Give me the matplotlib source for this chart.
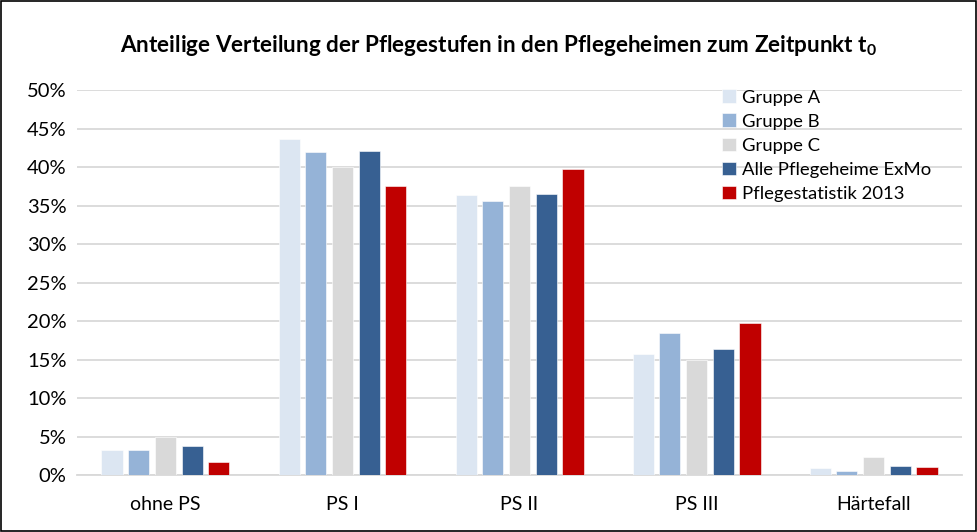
import matplotlib
matplotlib.use("Agg")
from matplotlib import pyplot as plt
from matplotlib.patches import Rectangle
import numpy as np

plt.rcParams['font.family'] = ['Lato', 'DejaVu Sans']
plt.rcParams['mathtext.fontset'] = 'custom'
plt.rcParams['mathtext.bf'] = 'Lato:bold'
plt.rcParams['mathtext.rm'] = 'Lato'

categories = ["ohne PS", "PS I", "PS II", "PS III", "Härtefall"]
series_names = ["Gruppe A", "Gruppe B", "Gruppe C", "Alle Pflegeheime ExMo", "Pflegestatistik 2013"]
gruppe_a = [3.2, 43.6, 36.4, 15.7, 0.9]
gruppe_b = [3.3, 42.0, 35.6, 18.5, 0.5]
gruppe_c = [5.0, 40.0, 37.5, 15.0, 2.4]
alle_exmo = [3.8, 42.1, 36.5, 16.4, 1.2]
statistik_2013 = [1.7, 37.5, 39.7, 19.8, 1.0]
colors = ["#DCE6F2", "#95B3D7", "#D9D9D9", "#376092", "#C00000"]

all_series = [gruppe_a, gruppe_b, gruppe_c, alle_exmo, statistik_2013]

fig = plt.figure(figsize=(9.78, 5.32), dpi=100)
ax = fig.add_axes([0.0787, 0.1071, 0.905, 0.7237])

x = np.arange(len(categories))
step = 0.151
width = 0.119
for i, (vals, name, col) in enumerate(zip(all_series, series_names, colors)):
    ax.bar(x + (i - 2) * step, np.array(vals) / 100, width, color=col, label=name,
           edgecolor="white", linewidth=0.4, zorder=3)

ax.set_xlim(-0.5, len(categories) - 0.5)
ax.set_ylim(0, 0.5)
ax.set_yticks(np.arange(0, 0.51, 0.05))
ax.set_yticklabels([f"{int(round(v * 100))}%" for v in np.arange(0, 0.51, 0.05)])
ax.set_xticks(x)
ax.set_xticklabels(categories)
ax.tick_params(axis="both", length=0, colors="#000000")
ax.tick_params(axis="x", pad=15, labelsize=14)
ax.tick_params(axis="y", pad=7.5, labelsize=14.5)
ax.grid(axis="y", color="#D9D9D9", linewidth=1.3, zorder=0)
for s in ["top", "right", "left"]:
    ax.spines[s].set_visible(False)
ax.spines["bottom"].set_color("#D9D9D9")
ax.spines["bottom"].set_linewidth(1.3)

fig.text(0.51, 0.915, r"Anteilige Verteilung der Pflegestufen in den Pflegeheimen zum Zeitpunkt $\mathbf{t_0}$",
         ha="center", va="center", fontsize=16.2, fontweight="bold")

ax.legend(loc="upper right", bbox_to_anchor=(0.984, 1.045), frameon=False, fontsize=13.3,
          handlelength=0.75, handleheight=0.75, handletextpad=0.35, labelspacing=0.43)

fig.patches.append(Rectangle((0.001, 0.002), 0.997, 0.996, transform=fig.transFigure,
                             fill=False, edgecolor="black", linewidth=1.2))

fig.savefig("out.png", dpi=100)
